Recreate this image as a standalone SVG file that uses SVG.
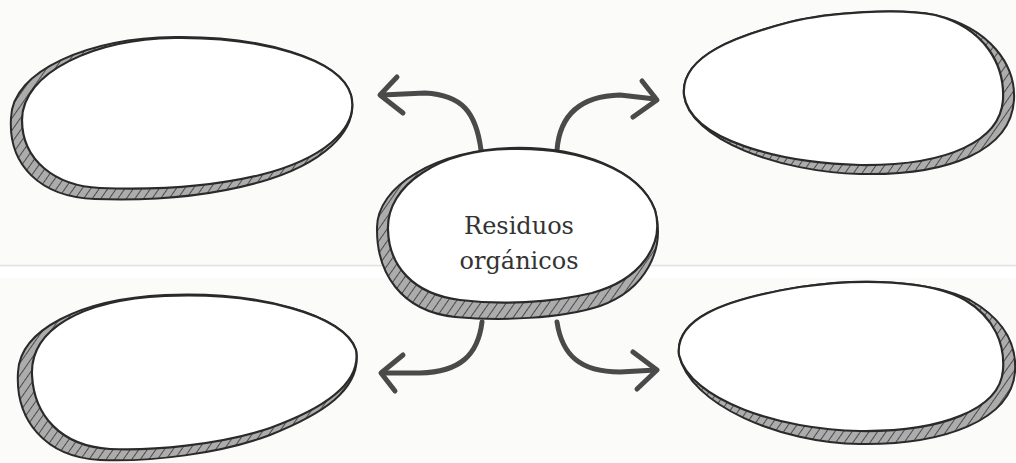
<svg xmlns="http://www.w3.org/2000/svg" width="1016" height="463" viewBox="0 0 1016 463">
<defs>
<pattern id="hatch" patternUnits="userSpaceOnUse" width="7" height="7" patternTransform="rotate(35)">
<rect width="7" height="7" fill="#acacac"/>
<line x1="0" y1="0" x2="0" y2="7" stroke="#4a4a4a" stroke-width="2"/>
</pattern>
</defs>
<style>
.shadow{fill:url(#hatch);stroke:#2a2a2a;stroke-width:2}
.blob{fill:#ffffff;stroke:#2a2a2a;stroke-width:2.2}
.arrow{fill:none;stroke:#4a4a4a;stroke-width:5;stroke-linecap:round;stroke-linejoin:round}
.label{font-family:"DejaVu Serif","Liberation Serif",serif;font-size:24px;fill:#333333;text-anchor:middle}
</style>
<rect width="1016" height="463" fill="#fbfbfa"/>
<line x1="0" y1="265.5" x2="1016" y2="265.5" stroke="#e2e2e2" stroke-width="1.5"/>
<rect x="0" y="267" width="1016" height="11" fill="#ffffff"/>

<g id="connectors">
<path class="arrow" d="M481,150 C476,112 462,95 425,93 L382,95"/>
<path class="arrow" d="M397,77 L380,95 L403,113"/>
<path class="arrow" d="M557,150 C560,112 583,96 620,95 L655,99"/>
<path class="arrow" d="M642,81 L657,100 L633,117"/>
<path class="arrow" d="M482,322 C478,355 460,372 420,373 L382,373"/>
<path class="arrow" d="M403,355 L381,373 L395,391"/>
<path class="arrow" d="M557,322 C562,355 580,372 620,372 L656,370"/>
<path class="arrow" d="M633,352 L657,370 L637,389"/>
</g>

<g id="node-top-left">
<path class="shadow" d="M11,118 C12,70 90,38 175,37 C260,36 340,58 351,95 C360,132 320,165 260,182 C210,196 150,201 95,199 C40,197 8,165 11,118 Z"/>
<path class="blob" d="M22,120 C22,72 95,39 175,38 C260,37 340,58 351,95 C360,130 320,160 260,175 C210,187 150,190 100,188 C55,186 22,160 22,120 Z"/>
</g>

<g id="node-top-right">
<path class="shadow" d="M684,95 C680,55 740,35 790,22 C830,12 900,8 935,15 C990,28 1016,65 1014,100 C1011,150 950,176 860,174 C780,172 690,140 684,95 Z"/>
<path class="blob" d="M684,95 C680,55 740,35 790,22 C830,12 900,8 935,15 C985,28 1005,65 1003,100 C1000,140 950,166 860,165 C780,163 690,140 684,95 Z"/>
</g>

<g id="node-bottom-left">
<path class="shadow" d="M18,372 C20,330 80,299 165,295 C260,291 345,315 356,350 C363,390 320,415 270,435 C220,454 150,462 100,460 C45,457 15,420 18,372 Z"/>
<path class="blob" d="M32,375 C30,330 80,300 165,296 C260,292 345,315 356,350 C362,385 320,410 270,428 C220,445 150,451 110,449 C60,446 34,415 32,375 Z"/>
</g>

<g id="node-bottom-right">
<path class="shadow" d="M679,355 C675,320 720,300 800,287 C860,278 930,280 970,300 C1005,320 1017,345 1015,372 C1011,420 945,445 860,444 C780,443 690,405 679,355 Z"/>
<path class="blob" d="M679,355 C675,320 720,300 800,287 C860,278 930,280 965,300 C995,318 1005,345 1003,370 C1000,410 940,432 860,431 C780,430 690,400 679,355 Z"/>
</g>

<g id="node-center">
<path class="shadow" d="M377,230 C375,185 440,150 510,148 C580,146 640,170 655,210 C666,250 645,290 600,306 C560,319 500,321 455,317 C400,311 377,272 377,230 Z"/>
<path class="blob" d="M388,230 C386,185 440,150 510,149 C580,147 640,170 655,210 C665,245 640,280 592,293 C550,303 500,305 460,300 C412,294 389,265 388,230 Z"/>
<text class="label" x="519" y="234">Residuos</text>
<text class="label" x="519" y="269">orgánicos</text>
</g>
</svg>
